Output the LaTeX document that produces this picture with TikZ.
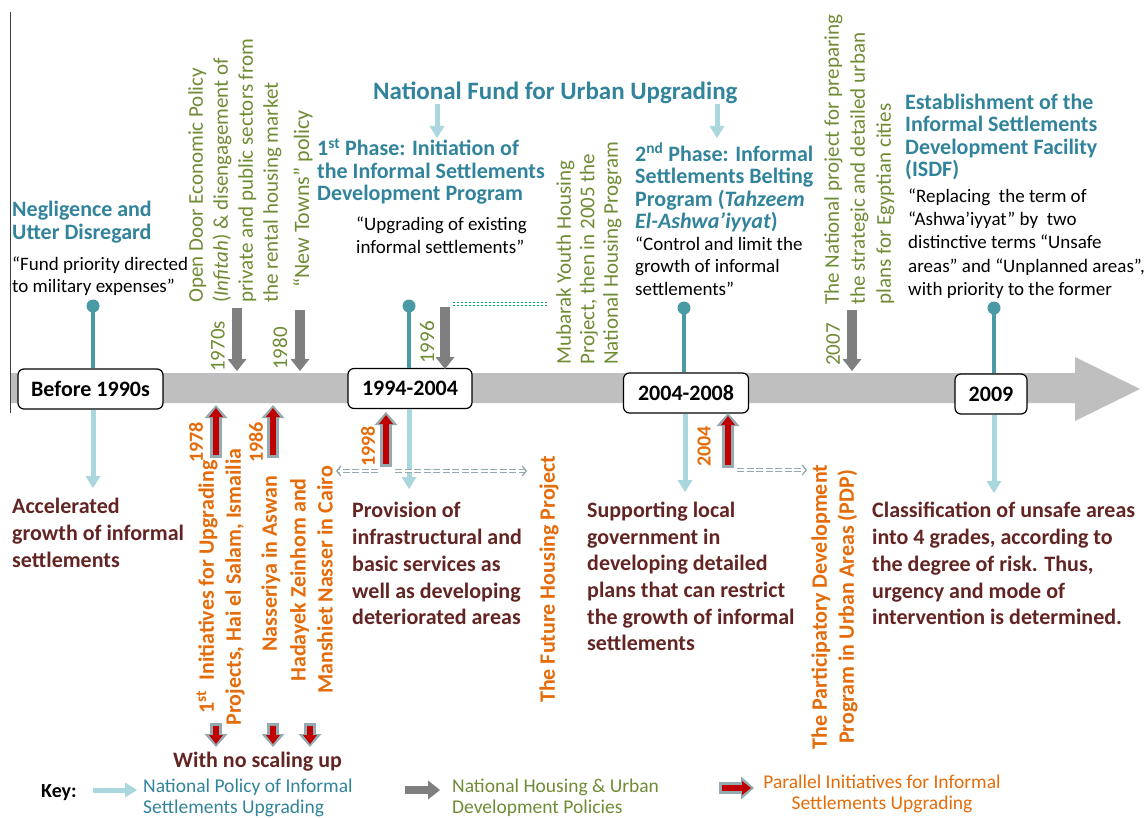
\documentclass[tikz,border=0pt]{standalone}
\usepackage{fontspec}
\setmainfont{Carlito}
\usetikzlibrary{arrows.meta}

\definecolor{headteal}{HTML}{31849B}
\definecolor{lightteal}{HTML}{A9D7DD}
\definecolor{stemteal}{HTML}{4A9AA5}
\definecolor{bandgray}{HTML}{BFBFBF}
\definecolor{arrowgray}{HTML}{7F7F7F}
\definecolor{polgreen}{HTML}{6F8C35}
\definecolor{initorange}{HTML}{E46C0A}
\definecolor{outred}{HTML}{632523}
\definecolor{initred}{HTML}{C00000}
\definecolor{outlineblue}{HTML}{93AAB0}
\definecolor{dotgreen}{HTML}{00B050}

\newcommand\fsz[2]{\fontsize{#1}{#2}\selectfont}

\begin{document}
\begin{tikzpicture}[x=1pt,y=-1pt,
  heading/.style={font=\bfseries\fsz{22}{22.5}, text=headteal, align=left, inner sep=0pt, anchor=north west},
  quote/.style={font=\fsz{19}{23}, align=left, inner sep=0pt, anchor=north west},
  outcome/.style={font=\bfseries\fsz{22}{26.8}, text=outred, align=left, inner sep=0pt, anchor=north west},
  policytext/.style={font=\fsz{21}{25}, text=polgreen, inner sep=0pt, rotate=90, align=left},
  inittext/.style={font=\bfseries\fsz{22}{27}, text=initorange, inner sep=0pt, rotate=90, align=center},
  policyyear/.style={font=\fsz{21}{21}, text=polgreen, inner sep=0pt, rotate=90, anchor=west},
  inityear/.style={font=\bfseries\fsz{20}{20}, text=initorange, inner sep=0pt, rotate=90, anchor=west},
  keytext/.style={font=\fsz{19.5}{21}, inner sep=0pt, align=left, anchor=north west},
  datebox/.style={draw=black, line width=1.2pt, fill=white, rounded corners=6pt, font=\bfseries\fsz{22}{22}, minimum height=40pt, inner sep=0pt},
  stem/.style={draw=stemteal, line width=4pt},
  stemdot/.style={circle, fill=stemteal, minimum size=13pt, inner sep=0pt},
  policyarrow/.style={draw=lightteal, line width=5pt, -{Triangle[width=15pt,length=12pt,line width=0pt]}},
  housingarrow/.style={draw=arrowgray, line width=10pt, -{Triangle[width=19pt,length=12pt,line width=0pt]}},
  initarrow/.style={draw=initred, line width=6pt, shorten >=3pt, shorten <=3pt,
     -{Triangle[width=14pt,length=9pt,line width=0pt]},
     preaction={draw=outlineblue, line width=12pt, shorten >=0pt, shorten <=0pt,
       -{Triangle[width=23pt,length=13pt,line width=0pt]}}},
  linkarrow/.style={draw=outlineblue, line width=1.3pt, double=white, double distance=1.8pt,
     dash pattern=on 7pt off 2.5pt, -{Straight Barb[length=4pt,width=10pt]}},
  dotlink/.style={draw=dotgreen, line width=1.7pt, double=white, double distance=1.2pt,
     dash pattern=on 2.2pt off 1.8pt},
]
\useasboundingbox (0,0) rectangle (1147,818);
\fill[white] (0,0) rectangle (1147,818);

% timeline band with its arrow head
\fill[bandgray] (10,373) -- (1075,373) -- (1075,357) -- (1140,389) -- (1075,421)
  -- (1075,403) -- (10,403) -- cycle;
\draw[black!75, line width=1pt] (10,12) -- (10,413);

% periods on the timeline
\node[datebox, minimum width=145pt] (b1) at (90.5,389) {Before 1990s};
\node[datebox, minimum width=124pt] (b2) at (410,388.5) {1994-2004};
\node[datebox, minimum width=125pt] (b3) at (686,393) {2004-2008};
\node[datebox, minimum width=72pt]  (b4) at (991,394) {2009};

% stems of the national policy phases
\node[stemdot] (s1) at (93,306) {};
\node[stemdot] (s2) at (409,306) {};
\node[stemdot] (s3) at (684,308) {};
\node[stemdot] (s4) at (994,308) {};
\draw[stem] (s1.center) -- (s1.center |- b1.north);
\draw[stem] (s2.center) -- (s2.center |- b2.north);
\draw[stem] (s3.center) -- (s3.center |- b3.north);
\draw[stem] (s4.center) -- (s4.center |- b4.north);

% upper texts: national policy phases
\node[heading] (neg) at (12,201) {Negligence and\\Utter Disregard};
\node[quote, font=\fsz{19}{22}] (negq) at (12,256.5) {“Fund priority directed\\to military expenses”};
\node[font=\bfseries\fsz{25}{25}, text=headteal, inner sep=0pt, anchor=west] (fund) at (373,93) {National Fund for Urban Upgrading};
\node[heading] (ph1) at (317,138.5) {1\textsuperscript{st} Phase: Initiation of\\the Informal Settlements\\Development Program};
\node[quote] (ph1q) at (356,216.5) {“Upgrading of existing\\informal settlements”};
\node[heading] (ph2) at (635,142.5) {2\textsuperscript{nd} Phase: Informal\\Settlements Belting\\Program (\textit{Tahzeem}\\\textit{El-Ashwa’iyyat})};
\node[quote, font=\fsz{19}{22.5}] (ph2q) at (635,236.5) {“Control and limit the\\growth of informal\\settlements”};
\node[heading] (isdf) at (905,93.5) {Establishment of the\\Informal Settlements\\Development Facility\\(ISDF)};
\node[quote, font=\fsz{19}{23.2}] (isdfq) at (908,188.5) {“Replacing\ \ the term of\\“Ashwa’iyyat” by\ \ two\\distinctive terms “Unsafe\\areas” and “Unplanned areas”,\\with priority to the former};

\coordinate (f1) at (437,138);
\coordinate (f2) at (717,138);
\draw[policyarrow] (f1 |- fund.south) -- (f1);
\draw[policyarrow] (f2 |- fund.south) -- (f2);

% national housing and urban development policies
\node[policytext, anchor=north west] (infitah) at (188,303) {Open Door Economic Policy\\(\textit{Infitah}) \& disengagement of\\private and public sectors from\\the rental housing market};
\node[policyyear] (y1970) at (218,372) {1970s};
\node[policyyear] (y1980) at (280,370) {1980};
\node[policyyear, font=\fsz{22}{22}] (towns) at (303,288) {“New Towns” policy};
\node[policyyear] (y1996) at (427,364) {1996};
\node[policytext, anchor=north west, font=\fsz{21}{23.5}] (mubarak) at (556,365) {Mubarak Youth Housing\\Project, then in 2005 the\\National Housing Program};
\node[policyyear] (y2007) at (833,366) {2007};
\node[policytext, anchor=north west, font=\fsz{21}{26}] (plans) at (824,305) {The National project for preparing\\the strategic and detailed urban\\plans for Egyptian cities};

\coordinate (h1a) at (237,308); \coordinate (h1b) at (237,371);
\coordinate (h2a) at (300,310); \coordinate (h2b) at (300,371);
\coordinate (h3a) at (445,307); \coordinate (h3b) at (445,369);
\coordinate (h4a) at (852,310); \coordinate (h4b) at (852,371);
\draw[housingarrow] (h1a) -- (h1b);
\draw[housingarrow] (h2a) -- (h2b);
\draw[housingarrow] (h3a) -- (h3b);
\draw[housingarrow] (h4a) -- (h4b);

\coordinate (g1) at (453,304); \coordinate (g2) at (547,304);
\draw[dotlink] (g1) -- (g2);

% outcomes of the national policy
\coordinate (p1) at (93,488);
\coordinate (p2) at (409,489);
\coordinate (p3) at (685,492);
\coordinate (p4) at (994,493);
\draw[policyarrow] (p1 |- b1.south) -- (p1);
\draw[policyarrow] (p2 |- b2.south) -- (p2);
\draw[policyarrow] (p3 |- b3.south) -- (p3);
\draw[policyarrow] (p4 |- b4.south) -- (p4);

\node[outcome] (out1) at (12,498) {Accelerated\\growth of informal\\settlements};
\node[outcome] (out2) at (352,502) {Provision of\\infrastructural and\\basic services as\\well as developing\\deteriorated areas};
\node[outcome, font=\bfseries\fsz{22}{26.6}] (out3) at (587,502) {Supporting local\\government in\\developing detailed\\plans that can restrict\\the growth of informal\\settlements};
\node[outcome] (out4) at (872,502) {Classification of unsafe areas\\into 4 grades, according to\\the degree of risk. Thus,\\urgency and mode of\\intervention is determined.};

% parallel initiatives
\coordinate (i1a) at (216,458); \coordinate (i1b) at (216,405);
\coordinate (i2a) at (273,458); \coordinate (i2b) at (273,405);
\coordinate (i3a) at (386,467); \coordinate (i3b) at (386,412);
\coordinate (i4a) at (728,468); \coordinate (i4b) at (728,413);
\draw[initarrow] (i1a) -- (i1b);
\draw[initarrow] (i2a) -- (i2b);
\draw[initarrow] (i3a) -- (i3b);
\draw[initarrow] (i4a) -- (i4b);

\node[inityear] (y1978) at (196,463) {1978};
\node[inityear] (y1986) at (256,463) {1986};
\node[inityear] (y1998) at (368,467) {1998};
\node[inityear] (y2004) at (704,467) {2004};

\node[inittext] (upgr) at (220.5,587) {1\textsuperscript{st}\ \ Initiatives for Upgrading\\Projects, Hai el Salam, Ismailia};
\node[inittext, anchor=west] (aswan) at (271,652) {Nasseriya in Aswan};
\node[inittext] (cairo) at (311.5,580) {Hadayek Zeinhom and\\Manshiet Nasser in Cairo};
\node[inittext, anchor=west] (future) at (549,703) {The Future Housing Project};
\node[inittext] (pdp) at (834.5,607) {The Participatory Development\\Program in Urban Areas (PDP)};

\coordinate (lk1a) at (378,471); \coordinate (lk1b) at (336,471);
\coordinate (lk2a) at (395,471); \coordinate (lk2b) at (527,471);
\coordinate (lk3a) at (737,470); \coordinate (lk3b) at (807,470);
\draw[linkarrow] (lk1a) -- (lk1b);
\draw[linkarrow] (lk2a) -- (lk2b);
\draw[linkarrow] (lk3a) -- (lk3b);

\coordinate (n1a) at (216,723); \coordinate (n1b) at (216,747);
\coordinate (n2a) at (273,723); \coordinate (n2b) at (273,747);
\coordinate (n3a) at (310,723); \coordinate (n3b) at (310,747);
\draw[initarrow] (n1a) -- (n1b);
\draw[initarrow] (n2a) -- (n2b);
\draw[initarrow] (n3a) -- (n3b);
\node[font=\bfseries\fsz{22}{22}, text=outred, inner sep=0pt, anchor=west] (noscale) at (173,762) {With no scaling up};

% key
\node[font=\bfseries\fsz{20}{20}, inner sep=0pt, anchor=west] (key) at (41,793) {Key:};
\coordinate (k1a) at (93,790); \coordinate (k1b) at (137,790);
\coordinate (k2a) at (405,790); \coordinate (k2b) at (440,790);
\coordinate (k3a) at (719,788); \coordinate (k3b) at (754,788);
\draw[policyarrow] (k1a) -- (k1b);
\draw[housingarrow, line width=8pt] (k2a) -- (k2b);
\draw[initarrow] (k3a) -- (k3b);
\node[keytext, text=headteal] (key1) at (143,778.5) {National Policy of Informal\\Settlements Upgrading};
\node[keytext, text=polgreen] (key2) at (452,778.5) {National Housing \& Urban\\Development Policies};
\node[keytext, text=initorange, align=center, anchor=north] (key3) at (882,774.5) {Parallel Initiatives for Informal\\Settlements Upgrading};
\end{tikzpicture}
\end{document}
